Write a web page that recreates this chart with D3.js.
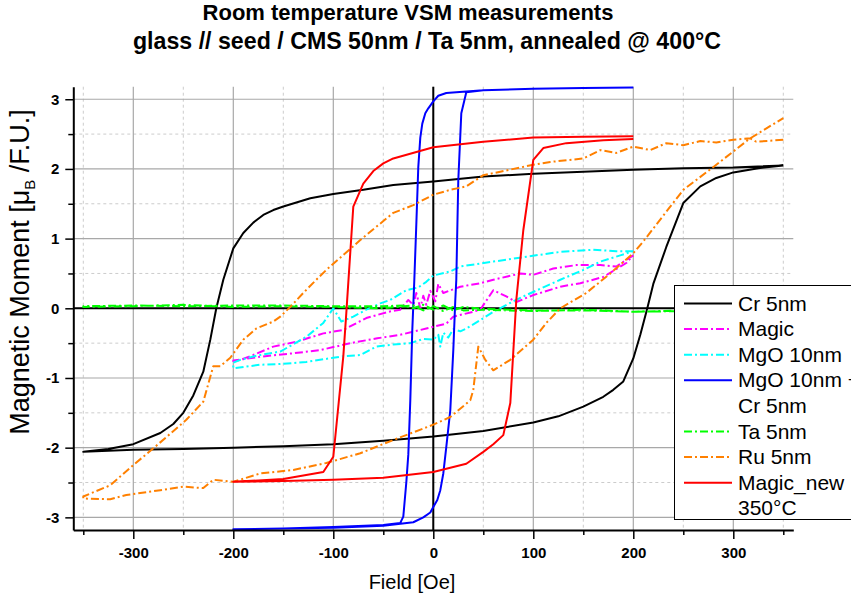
<!DOCTYPE html>
<html>
<head>
<meta charset="utf-8">
<script src="https://cdn.jsdelivr.net/npm/d3@7"></script>
<style>
  html, body { margin: 0; padding: 0; background: #fff; }
  svg { display: block; font-family: "Liberation Sans", Arial, Helvetica, sans-serif; }
</style>
</head>
<body>
<svg id="chart" width="851" height="601"></svg>
<script>
// ---- Hysteresis loops: [field (Oe), moment (muB / F.U.)] ----
// Each loop: descending branch (+H -> -H) followed by ascending branch (-H -> +H)

const cr5nmDesc = [[350,2.05],[300,2.02],[250,2.01],[200,1.99],[150,1.96],[100,1.93],[50,1.89],[0,1.82],[-40,1.77],[-70,1.70],[-100,1.64],[-123,1.58],[-150,1.46],[-160,1.41],[-170,1.34],[-180,1.23],[-190,1.08],[-200,0.86],[-210,0.41],[-217,0],[-223,-0.45],[-230,-0.91],[-240,-1.25],[-250,-1.50],[-260,-1.66],[-273,-1.79],[-300,-1.95],[-325,-2.02],[-350,-2.06]];
const cr5nmAsc = [[-350,-2.06],[-300,-2.03],[-250,-2.02],[-200,-2.00],[-150,-1.98],[-100,-1.95],[-50,-1.90],[0,-1.84],[50,-1.76],[100,-1.64],[125,-1.55],[150,-1.41],[170,-1.27],[180,-1.17],[190,-1.05],[200,-0.72],[207,-0.38],[214,0],[220,0.35],[233,0.88],[250,1.51],[267,1.75],[283,1.87],[300,1.95],[325,2.01],[350,2.05]];

const magicDesc = [[200,0.76],[183,0.60],[167,0.62],[143,0.62],[120,0.57],[100,0.48],[87,0.50],[60,0.41],[47,0.36],[27,0.31],[10,0.22],[5,0.35],[2,0.10],[-3,0.25],[-7,0.05],[-10,0.18],[-13,0.00],[-17,0.22],[-20,0.05],[-25,0.12],[-33,-0.02],[-45,-0.05],[-67,-0.14],[-90,-0.31],[-110,-0.36],[-137,-0.48],[-160,-0.55],[-180,-0.67],[-193,-0.74],[-200,-0.76]];
const magicAsc = [[-200,-0.75],[-190,-0.73],[-170,-0.69],[-143,-0.65],[-113,-0.60],[-83,-0.50],[-56,-0.43],[-33,-0.38],[-7,-0.29],[13,-0.22],[20,-0.12],[40,-0.05],[47,-0.02],[60,0.26],[73,0.17],[83,0.09],[100,0.19],[127,0.31],[147,0.36],[170,0.45],[193,0.65],[200,0.76]];

const mgo10nmDesc = [[200,0.82],[183,0.82],[160,0.84],[127,0.81],[93,0.74],[60,0.67],[27,0.60],[17,0.53],[0,0.47],[-7,0.38],[-15,0.30],[-27,0.26],[-43,0.12],[-53,0.07],[-67,-0.02],[-80,-0.12],[-92,-0.19],[-100,0.00],[-110,-0.21],[-127,-0.41],[-153,-0.62],[-177,-0.68],[-193,-0.74],[-200,-0.78]];
const mgo10nmAsc = [[-200,-0.86],[-173,-0.81],[-153,-0.80],[-127,-0.77],[-100,-0.71],[-90,-0.69],[-73,-0.67],[-57,-0.55],[-40,-0.52],[-23,-0.50],[-10,-0.44],[0,-0.45],[5,-0.38],[7,-0.55],[10,-0.35],[15,-0.42],[20,-0.30],[27,-0.33],[33,-0.29],[47,-0.17],[60,-0.05],[80,0.10],[93,0.19],[110,0.30],[127,0.41],[150,0.55],[167,0.67],[187,0.76],[200,0.82]];

const mgoCrDesc = [[200,3.17],[150,3.16],[100,3.15],[50,3.13],[33,3.11],[13,3.09],[5,3.05],[0,2.97],[-5,2.87],[-8,2.80],[-11,2.65],[-13,2.45],[-15,2.03],[-17,1.20],[-19,0.40],[-21,-0.31],[-23,-1.32],[-25,-2.10],[-27,-2.50],[-30,-2.99],[-33,-3.08],[-50,-3.11],[-100,-3.14],[-150,-3.16],[-200,-3.17]];
const mgoCrAsc = [[-200,-3.17],[-150,-3.16],[-100,-3.15],[-50,-3.12],[-20,-3.07],[-10,-3.00],[-3,-2.93],[0,-2.85],[4,-2.75],[7,-2.61],[10,-2.37],[13,-1.99],[17,-1.46],[20,-0.60],[22,0.12],[23,0.41],[25,1.84],[28,2.80],[33,3.10],[50,3.13],[100,3.15],[150,3.16],[200,3.17]];

const ta5nmDesc = [[350,-0.04],[300,-0.04],[250,-0.03],[200,-0.05],[150,-0.03],[100,-0.03],[50,-0.01],[30,0.02],[20,-0.03],[10,0.04],[0,-0.02],[-10,0.05],[-20,0.00],[-30,0.04],[-50,0.03],[-100,0.03],[-150,0.04],[-200,0.04],[-250,0.03],[-300,0.04],[-350,0.03]];
const ta5nmAsc = [[-350,0.02],[-300,0.03],[-250,0.05],[-200,0.02],[-150,0.03],[-100,0.02],[-50,0.00],[-20,0.04],[-10,-0.03],[0,0.03],[10,-0.04],[20,0.02],[30,-0.03],[50,-0.02],[100,-0.04],[150,-0.02],[200,-0.05],[250,-0.04],[300,-0.05],[350,-0.05]];

const ru5nmDesc = [[350,2.42],[323,2.39],[317,2.44],[300,2.42],[283,2.38],[267,2.40],[250,2.34],[233,2.37],[217,2.27],[200,2.32],[183,2.23],[167,2.27],[150,2.15],[117,2.10],[100,2.06],[67,1.96],[50,1.91],[33,1.75],[17,1.70],[0,1.63],[-20,1.48],[-40,1.37],[-73,0.98],[-107,0.55],[-117,0.41],[-130,0.22],[-143,0.02],[-153,-0.12],[-160,-0.19],[-177,-0.29],[-190,-0.45],[-203,-0.71],[-213,-0.83],[-220,-0.83],[-230,-1.34],[-247,-1.60],[-280,-2.01],[-300,-2.25],[-323,-2.54],[-350,-2.70]];
const ru5nmAsc = [[-350,-2.73],[-323,-2.74],[-307,-2.68],[-273,-2.61],[-250,-2.56],[-230,-2.58],[-220,-2.46],[-200,-2.49],[-173,-2.37],[-140,-2.32],[-107,-2.22],[-73,-2.08],[-40,-1.89],[0,-1.67],[17,-1.56],[37,-1.32],[40,-1.17],[45,-0.55],[52,-0.74],[60,-0.89],[77,-0.74],[100,-0.45],[113,-0.21],[127,0.00],[153,0.22],[177,0.50],[200,0.79],[210,0.96],[250,1.70],[283,2.06],[317,2.44],[350,2.73]];

const magicNewDesc = [[200,2.47],[150,2.46],[100,2.45],[50,2.39],[0,2.31],[-40,2.15],[-50,2.08],[-60,1.97],[-70,1.79],[-80,1.46],[-87,-0.07],[-90,-0.69],[-100,-2.13],[-110,-2.35],[-150,-2.45],[-200,-2.49]];
const magicNewAsc = [[-200,-2.49],[-150,-2.48],[-100,-2.46],[-50,-2.43],[0,-2.35],[33,-2.23],[50,-2.06],[60,-1.95],[70,-1.82],[77,-1.36],[83,0.12],[90,1.12],[100,2.13],[110,2.30],[133,2.37],[170,2.41],[200,2.43]];

// ---- Labels and ticks ----
const titleLines = ["Room temperature VSM measurements", "glass // seed / CMS 50nm / Ta 5nm, annealed @ 400°C"];
const xAxisTitle = "Field [Oe]";
const majorXTicks = [-300, -200, -100, 0, 100, 200, 300];
const minorXTicks = [-350, -250, -150, -50, 50, 150, 250, 350];
const majorYTicks = [-3, -2, -1, 0, 1, 2, 3];
const minorYTicks = [-2.5, -1.5, -0.5, 0.5, 1.5, 2.5];

const seriesNames = [["Cr 5nm"], ["Magic"], ["MgO 10nm"], ["MgO 10nm +", "Cr 5nm"], ["Ta 5nm"], ["Ru 5nm"], ["Magic_new", "350°C"]];
const seriesColors = ["#000000", "#ff00ff", "#00ffff", "#0000ff", "#00ff00", "#ff8000", "#ff0000"];
const seriesDashed = [false, true, true, false, true, true, false];
const seriesData = [
  cr5nmDesc.concat(cr5nmAsc),
  magicDesc.concat(magicAsc),
  mgo10nmDesc.concat(mgo10nmAsc),
  mgoCrDesc.concat(mgoCrAsc),
  ta5nmDesc.concat(ta5nmAsc),
  ru5nmDesc.concat(ru5nmAsc),
  magicNewDesc.concat(magicNewAsc)
];

// ---- Layout ----
const svg = d3.select("#chart");
const x = d3.scaleLinear().domain([-360, 360]).range([73.3, 793.3]);
const y = d3.scaleLinear().domain([-3.18, 3.18]).range([529.9, 86.7]);
const [x0, x1] = x.range();
const [yB, yT] = y.range();
const dashDot = "8,3,2,3";

// Grid
const grid = svg.append("g");
grid.selectAll(".gxm").data(minorXTicks).join("line")
  .attr("x1", d => x(d)).attr("x2", d => x(d)).attr("y1", yT).attr("y2", yB)
  .attr("stroke", "#cccccc").attr("stroke-width", 1).attr("stroke-dasharray", "3,3");
grid.selectAll(".gym").data(minorYTicks).join("line")
  .attr("x1", x0).attr("x2", x1).attr("y1", d => y(d)).attr("y2", d => y(d))
  .attr("stroke", "#cccccc").attr("stroke-width", 1).attr("stroke-dasharray", "3,3");
grid.selectAll(".gxM").data(majorXTicks).join("line")
  .attr("x1", d => x(d)).attr("x2", d => x(d)).attr("y1", yT).attr("y2", yB)
  .attr("stroke", "#a8a8a8").attr("stroke-width", 1.2);
grid.selectAll(".gyM").data(majorYTicks).join("line")
  .attr("x1", x0).attr("x2", x1).attr("y1", d => y(d)).attr("y2", d => y(d))
  .attr("stroke", "#a8a8a8").attr("stroke-width", 1.2);

// Zero lines
svg.append("line").attr("x1", x0).attr("x2", x1).attr("y1", y(0)).attr("y2", y(0))
  .attr("stroke", "#000").attr("stroke-width", 2);
svg.append("line").attr("x1", x(0)).attr("x2", x(0)).attr("y1", yT).attr("y2", yB)
  .attr("stroke", "#000").attr("stroke-width", 2);

// Curves
const line = d3.line().x(d => x(d[0])).y(d => y(d[1]));
const curves = svg.append("g").attr("fill", "none").attr("stroke-linejoin", "round");
seriesData.forEach((data, i) => {
  curves.append("path")
    .attr("d", line(data))
    .attr("stroke", seriesColors[i])
    .attr("stroke-width", 2)
    .attr("stroke-dasharray", seriesDashed[i] ? dashDot : null);
});

// Axes
const fmt = d => String(d);
const xAxis = svg.append("g").attr("transform", `translate(0,${yB})`)
  .call(d3.axisBottom(x).tickValues(majorXTicks).tickFormat(fmt).tickSize(9).tickPadding(8).tickSizeOuter(0));
svg.append("g").attr("transform", `translate(0,${yB})`)
  .call(d3.axisBottom(x).tickValues(minorXTicks).tickFormat("").tickSize(5).tickSizeOuter(0))
  .call(g => g.select(".domain").remove());
const yAxis = svg.append("g").attr("transform", `translate(${x0},0)`)
  .call(d3.axisLeft(y).tickValues(majorYTicks).tickFormat(fmt).tickSize(8).tickPadding(6).tickSizeOuter(0));
svg.append("g").attr("transform", `translate(${x0},0)`)
  .call(d3.axisLeft(y).tickValues(minorYTicks).tickFormat("").tickSize(5).tickSizeOuter(0))
  .call(g => g.select(".domain").remove());

svg.selectAll(".domain").attr("stroke", "#000").attr("stroke-width", 2);
svg.selectAll(".tick line").attr("stroke", "#000").attr("stroke-width", 1.5);
[xAxis, yAxis].forEach(g => g.selectAll("text")
  .attr("font-family", "Liberation Sans, Arial, sans-serif")
  .attr("font-size", 15).attr("font-weight", "bold").attr("fill", "#000"));

// Axis titles
svg.append("text").attr("x", 412).attr("y", 589).attr("text-anchor", "middle")
  .attr("font-size", 20).text(xAxisTitle);

const yTitle = svg.append("text")
  .attr("transform", "translate(29,272) rotate(-90)")
  .attr("text-anchor", "middle").attr("font-size", 27);
yTitle.append("tspan").text("Magnetic Moment [μ");
yTitle.append("tspan").attr("font-size", 15).attr("dy", 6).text("B");
yTitle.append("tspan").attr("dy", -6).text(" /F.U.]");

// Title
svg.append("text").attr("x", 408).attr("y", 20).attr("text-anchor", "middle")
  .attr("font-size", 22).attr("font-weight", "bold").text(titleLines[0]);
svg.append("text").attr("x", 427).attr("y", 49).attr("text-anchor", "middle")
  .attr("font-size", 23.2).attr("font-weight", "bold").text(titleLines[1]);

// Legend
const legend = svg.append("g");
legend.append("rect").attr("x", 674.5).attr("y", 285.5).attr("width", 200).attr("height", 234)
  .attr("fill", "#fff").attr("stroke", "#000").attr("stroke-width", 1);
let row = 0;
const rowH = 25.6, firstBase = 310.5;
seriesNames.forEach((lines, i) => {
  const base = firstBase + row * rowH;
  legend.append("line").attr("x1", 684).attr("x2", 732).attr("y1", base - 7).attr("y2", base - 7)
    .attr("stroke", seriesColors[i]).attr("stroke-width", 2)
    .attr("stroke-dasharray", seriesDashed[i] ? dashDot : null);
  lines.forEach((t, k) => {
    legend.append("text").attr("x", 738).attr("y", base + k * rowH)
      .attr("font-size", 21).attr("fill", "#000").text(t);
  });
  row += lines.length;
});
</script>
</body>
</html>
